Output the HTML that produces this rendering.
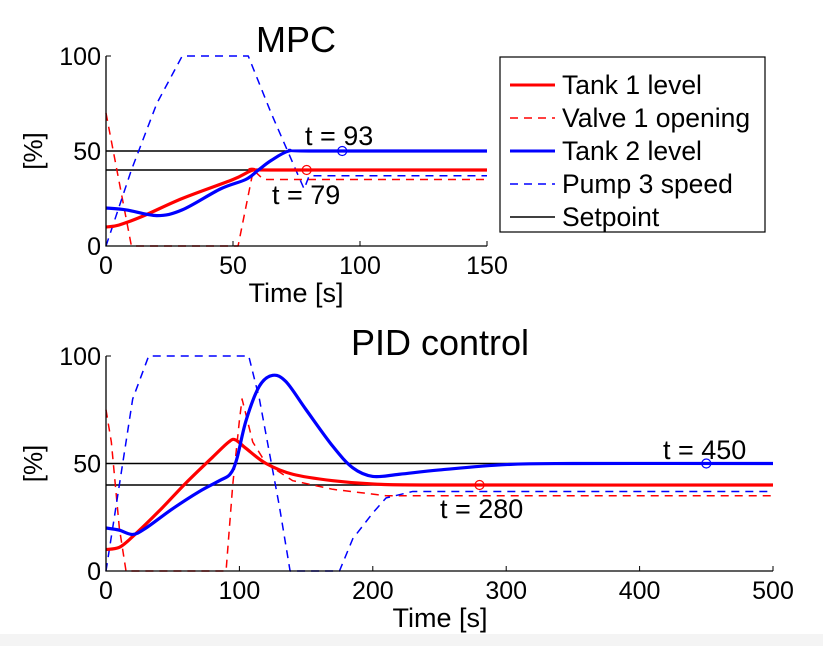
<!DOCTYPE html>
<html><head><meta charset="utf-8"><style>
body{margin:0;background:#fff;width:823px;height:646px;overflow:hidden;font-family:"Liberation Sans",sans-serif}
svg text{font-family:"Liberation Sans",sans-serif;fill:#000}
</style></head><body>
<svg id="chart" width="823" height="646" xmlns="http://www.w3.org/2000/svg">
<rect x="0" y="634" width="823" height="12" fill="#f4f4f4"/>
</svg>
<script>
// ---- MPC data ----
const mpcTank1T=[0,5,15,30,50,58,65,150];
const mpcTank1V=[10,11,16,25,35,40,40,40];
const mpcTank2T=[0,8,20,30,45,55,60,65,72,80,150];
const mpcTank2V=[20,19,16,19,30,35,40,45,50,50,50];
const mpcValveT=[0,5,10,52,55,58,62,150];
const mpcValveV=[70,35,0,0,20,40,35,35];
const mpcPumpT=[0,10,20,30,56,65,78,80,150];
const mpcPumpV=[0,40,75,100,100,70,30,37,37];
const mpcMarkT=[79,93];const mpcMarkV=[40,50];
const mpcXTicks=[0,50,100,150];
// ---- PID data ----
const pidTank1T=[0,10,20,40,60,80,92,97,105,120,140,170,200,250,500];
const pidTank1V=[10,11,16,28,41,53,60,61,57,50,45,42,40.5,40,40];
const pidTank2T=[0,10,20,30,50,70,85,93,98,105,115,125,135,150,170,185,200,220,250,300,350,500];
const pidTank2V=[20,19,17,20,29,37,42,45,52,70,86,91,88,75,58,48,44,45,47,49.5,50,50];
const pidValveT=[0,4,10,15,90,95,100,102,110,120,140,170,210,500];
const pidValveV=[75,60,20,0,0,40,70,80,60,50,42,38,35,35];
const pidPumpT=[0,10,20,32,107,115,130,138,175,185,200,210,230,500];
const pidPumpV=[0,40,80,100,100,80,30,0,0,15,27,34,37,37];
const pidMarkT=[280,450];const pidMarkV=[40,50];
const pidXTicks=[0,100,200,300,400,500];
const yTicks=[0,50,100];
const setpoints=[50,40];

const svg=document.getElementById('chart');
const NS='http://www.w3.org/2000/svg';
function mk(tag,attrs,parent){const e=document.createElementNS(NS,tag);for(const k in attrs)e.setAttribute(k,attrs[k]);(parent||svg).appendChild(e);return e;}
function smooth(pts){let d='M'+pts[0][0]+','+pts[0][1];for(let i=0;i<pts.length-1;i++){const p0=pts[i-1]||pts[i],p1=pts[i],p2=pts[i+1],p3=pts[i+2]||p2;
 const c1=[p1[0]+(p2[0]-p0[0])/6,p1[1]+(p2[1]-p0[1])/6],c2=[p2[0]-(p3[0]-p1[0])/6,p2[1]-(p3[1]-p1[1])/6];
 d+=' C'+c1+' '+c2+' '+p2;}return d;}
function panel(cfg){
 const sx=t=>cfg.x0+(t-cfg.tmin)/(cfg.tmax-cfg.tmin)*(cfg.x1-cfg.x0);
 const sy=v=>cfg.y0-v/100*(cfg.y0-cfg.y1);
 const g=mk('g',{});
 
 
 setpoints.forEach(s=>{const l=mk('line',{x1:cfg.x0,x2:cfg.x1,y1:sy(s),y2:sy(s),stroke:'#000','stroke-width':1.5},g);
  });
 const series=[[cfg.valveT,cfg.valveV,'#f00',1.5,'8,6','valve-1-opening'],[cfg.pumpT,cfg.pumpV,'#00f',1.5,'8,6','pump-3-speed'],
  [cfg.t1T,cfg.t1V,'#f00',3.2,null,'tank-1-level'],[cfg.t2T,cfg.t2V,'#00f',3.2,null,'tank-2-level']];
 series.forEach(s=>{const pts=s[0].map((t,i)=>[sx(t),sy(s[1][i])]);
  const d=s[4]?('M'+pts.map(p=>p.join(',')).join(' L')):smooth(pts);
  const a={d:d,fill:'none',stroke:s[2],'stroke-width':s[3],'stroke-linejoin':'round'};if(s[4])a['stroke-dasharray']=s[4];
  const p=mk('path',a,g);});
 const cols=['#f00','#00f'];
 cfg.markT.forEach((t,i)=>{const c=mk('circle',{cx:sx(t),cy:sy(cfg.markV[i]),r:4.5,fill:'none',stroke:cols[i],'stroke-width':1.2},g);
  });
 const ax=mk('path',{d:`M${cfg.x0},${cfg.y1}V${cfg.y0}H${cfg.x1}`,fill:'none',stroke:'#000','stroke-width':1.3},g);
 
 cfg.xTicks.forEach(t=>{const l=mk('line',{x1:sx(t),x2:sx(t),y1:cfg.y0,y2:cfg.y0-5,stroke:'#000'},g);
  
  const tx=mk('text',{x:sx(t),y:cfg.y0+28,'font-size':25,'text-anchor':'middle'},g);tx.textContent=t;
  });
 yTicks.forEach(v=>{const l=mk('line',{x1:cfg.x0,x2:cfg.x0+5,y1:sy(v),y2:sy(v),stroke:'#000'},g);
  
  const tx=mk('text',{x:cfg.x0-5,y:sy(v)+9,'font-size':25,'text-anchor':'end'},g);tx.textContent=v;
  });
 const ti=mk('text',{x:cfg.titleX,y:cfg.titleY,'font-size':36,'text-anchor':'middle'},g);ti.textContent=cfg.title;
 
 const xl=mk('text',{x:cfg.xlX,y:cfg.y0+56,'font-size':27,'text-anchor':'middle'},g);xl.textContent='Time [s]';
 
 const ym=(cfg.y0+cfg.y1)/2;
 const yl=mk('text',{x:0,y:0,'font-size':26,'text-anchor':'middle',transform:`translate(42,${ym}) rotate(-90)`},g);yl.textContent='[%]';
 
 cfg.ann.forEach(a=>{const tx=mk('text',{x:a[0],y:a[1],'font-size':27},g);tx.textContent=a[2];
  });
}
panel({name:'mpc-panel',x0:106,x1:487,y0:246,y1:56,tmin:0,tmax:150,t1T:mpcTank1T,t1V:mpcTank1V,t2T:mpcTank2T,t2V:mpcTank2V,
 valveT:mpcValveT,valveV:mpcValveV,pumpT:mpcPumpT,pumpV:mpcPumpV,markT:mpcMarkT,markV:mpcMarkV,xTicks:mpcXTicks,
 title:'MPC',titleX:296,titleY:52,xlX:296,ann:[[305,145,'t = 93'],[272,204,'t = 79']]});
panel({name:'pid-panel',x0:106,x1:773,y0:571,y1:356,tmin:0,tmax:500,t1T:pidTank1T,t1V:pidTank1V,t2T:pidTank2T,t2V:pidTank2V,
 valveT:pidValveT,valveV:pidValveV,pumpT:pidPumpT,pumpV:pidPumpV,markT:pidMarkT,markV:pidMarkV,xTicks:pidXTicks,
 title:'PID control',titleX:440,titleY:355,xlX:440,ann:[[663,459,'t = 450'],[440,518,'t = 280']]});
// legend
const lg=mk('g',{});


const lb=mk('rect',{x:500,y:57,width:265,height:175,fill:'#fff',stroke:'#000','stroke-width':1.2},lg);

const legNames=['Tank 1 level','Valve 1 opening','Tank 2 level','Pump 3 speed','Setpoint'];
const legCols=['#f00','#f00','#00f','#00f','#000'];
const legW=[3,1.5,3,1.5,1.5];const legD=[null,'8,6',null,'8,6',null];
legNames.forEach((n,i)=>{const y=85+i*33;
 const a={x1:510,x2:555,y1:y,y2:y,stroke:legCols[i],'stroke-width':legW[i]};if(legD[i])a['stroke-dasharray']=legD[i];
 const l=mk('line',a,lg);
 const t=mk('text',{x:562,y:y+9,'font-size':26.5},lg);t.textContent=n;
 });
</script>
</body></html>
